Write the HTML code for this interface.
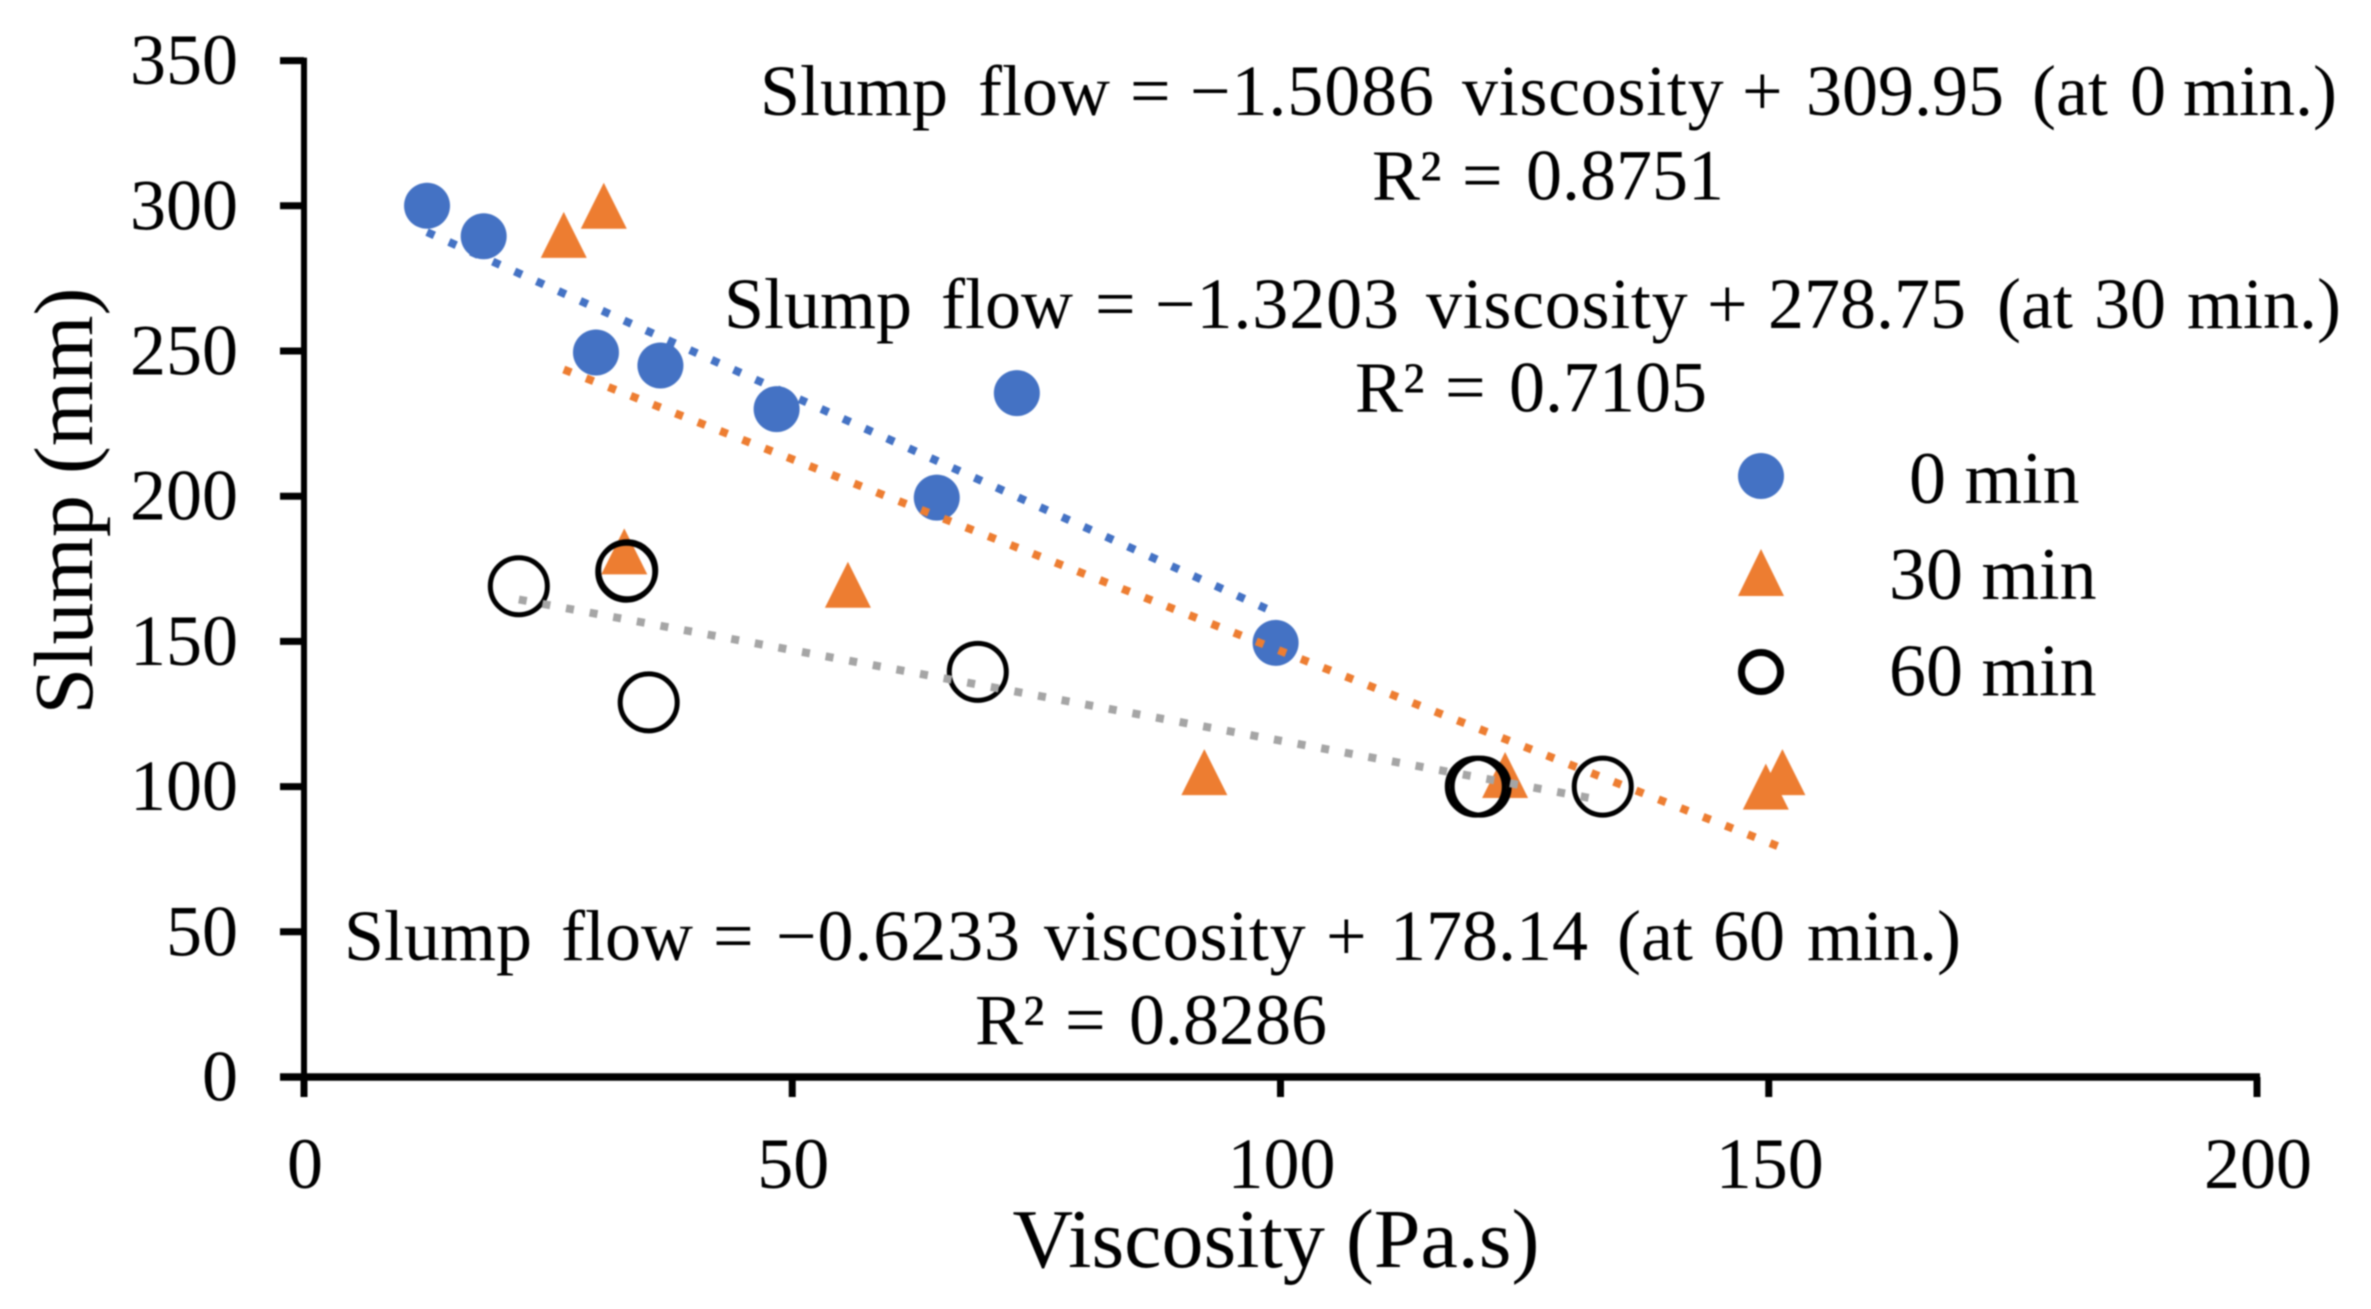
<!DOCTYPE html>
<html lang="en">
<head>
<meta charset="utf-8">
<title>Slump vs Viscosity</title>
<style>
html,body{margin:0;padding:0;background:#fff;width:2371px;height:1309px;overflow:hidden}
svg{display:block;filter:blur(0.8px)}
text{font-family:"Liberation Serif",serif;fill:#000}
.n{letter-spacing:0.9px}
.v{letter-spacing:0.7px}
</style>
</head>
<body>
<svg id="chart" xmlns="http://www.w3.org/2000/svg" width="2371" height="1309" viewBox="0 0 2371 1309">
  <rect x="0" y="0" width="2371" height="1309" fill="#fff"/>
  <g id="axes"></g>
  <g id="marks"></g>
  <g id="trends"></g>

  <text transform="translate(92,501) rotate(-90)" text-anchor="middle" font-size="84">Slump (mm)</text>
  <text x="1276" y="1267" text-anchor="middle" font-size="84">Viscosity (Pa.s)</text>

  <text y="115" font-size="72"><tspan x="760">Slump</tspan><tspan x="978">flow</tspan><tspan x="1130">=</tspan><tspan x="1190" class="n">−1.5086</tspan><tspan x="1462" class="v">viscosity</tspan><tspan x="1742">+</tspan><tspan x="1806">309.95</tspan><tspan x="2032">(at</tspan><tspan x="2130">0</tspan><tspan x="2183">min.)</tspan></text>
  <text y="199.5" font-size="72"><tspan x="1372">R²</tspan><tspan x="1462">=</tspan><tspan x="1526">0.8751</tspan></text>

  <text y="328" font-size="72"><tspan x="724">Slump</tspan><tspan x="941">flow</tspan><tspan x="1095">=</tspan><tspan x="1155" class="n">−1.3203</tspan><tspan x="1426" class="v">viscosity</tspan><tspan x="1707">+</tspan><tspan x="1768">278.75</tspan><tspan x="1997">(at</tspan><tspan x="2094">30</tspan><tspan x="2187">min.)</tspan></text>
  <text y="411.5" font-size="72"><tspan x="1355">R²</tspan><tspan x="1445">=</tspan><tspan x="1509">0.7105</tspan></text>

  <text y="960" font-size="72"><tspan x="344">Slump</tspan><tspan x="561">flow</tspan><tspan x="713">=</tspan><tspan x="776" class="n">−0.6233</tspan><tspan x="1044" class="v">viscosity</tspan><tspan x="1326">+</tspan><tspan x="1390">178.14</tspan><tspan x="1617">(at</tspan><tspan x="1713">60</tspan><tspan x="1807">min.)</tspan></text>
  <text y="1044" font-size="72"><tspan x="975">R²</tspan><tspan x="1065">=</tspan><tspan x="1129">0.8286</tspan></text>

  <g>
    <circle cx="1761" cy="476" r="23" fill="#4472C4"/>
    <polygon points="1761,549 1784,596 1738,596" fill="#ED7D31"/>
    <circle cx="1761" cy="672" r="19.5" fill="none" stroke="#000" stroke-width="7"/>
    <text x="1909" y="503" font-size="74">0 min</text>
    <text x="1889" y="599" font-size="74">30 min</text>
    <text x="1889" y="695.5" font-size="74">60 min</text>
  </g>
</svg>
<script>
var xTicks = [0, 50, 100, 150, 200];
var yTicks = [0, 50, 100, 150, 200, 250, 300, 350];
var x0min = [12.6, 18.4, 29.9, 36.5, 48.4, 64.8, 73, 99.5];
var y0min = [300, 289.5, 249.5, 245, 230, 199.5, 235.5, 149.5];
var x30min = [26.6, 30.7, 32.8, 55.7, 92.2, 123, 149.7, 151.4];
var y30min = [290, 300, 181, 169.5, 105, 104, 100, 105];
var x60min = [22, 33, 33.1, 35.3, 69, 120, 120.5, 133];
var y60min = [169, 174, 174.5, 129, 139.5, 100, 100, 100];
var trendSlopes = [-1.5086, -1.3203, -0.6233];
var trendIntercepts = [309.95, 278.75, 178.14];
var trendStartX = [12.6, 26.6, 22];
var trendEndX = [99.5, 151.4, 133];

var NS = 'http://www.w3.org/2000/svg';
function xScale(v) { return 304 + (v / 200) * (2257 - 304); }
function yScale(v) { return 1077 - (v / 350) * (1077 - 60.6); }
function make(tag, attrs, parent) {
  var el = document.createElementNS(NS, tag);
  for (var k in attrs) { el.setAttribute(k, attrs[k]); }
  parent.appendChild(el);
  return el;
}
var axes = document.getElementById('axes');
var marks = document.getElementById('marks');
var trends = document.getElementById('trends');

var yAxisLine = make('line', {x1: xScale(0), x2: xScale(0), y1: yScale(350) - 3, y2: yScale(0) + 3, stroke: '#000', 'stroke-width': 6}, axes);


var xAxisLine = make('line', {x1: xScale(0) - 24, x2: xScale(200) + 3, y1: yScale(0), y2: yScale(0), stroke: '#000', 'stroke-width': 7.5}, axes);



yTicks.forEach(function (t) {
  var tick = make('line', {x1: xScale(0) - 24, x2: xScale(0), y1: yScale(t), y2: yScale(t), stroke: '#000', 'stroke-width': 7}, axes);
  
  
  var label = make('text', {x: 238, y: yScale(t) + 23.5, 'text-anchor': 'end', 'font-size': 72}, axes);
  label.textContent = String(t);
  
  
});
xTicks.forEach(function (t) {
  var tick = make('line', {x1: xScale(t), x2: xScale(t), y1: yScale(0), y2: yScale(0) + 20, stroke: '#000', 'stroke-width': 7}, axes);
  
  
  var label = make('text', {x: xScale(t) + 1, y: 1188, 'text-anchor': 'middle', 'font-size': 72}, axes);
  label.textContent = String(t);
  
  
});

x0min.forEach(function (v, i) {
  var c = make('circle', {cx: xScale(v), cy: yScale(y0min[i]), r: 23, fill: '#4472C4'}, marks);
  
  
});
x30min.forEach(function (v, i) {
  var px = xScale(v), py = yScale(y30min[i]);
  var p = make('polygon', {points: px + ',' + (py - 23) + ' ' + (px + 23) + ',' + (py + 23) + ' ' + (px - 23) + ',' + (py + 23), fill: '#ED7D31'}, marks);
  
  
});
x60min.forEach(function (v, i) {
  var c = make('circle', {cx: xScale(v), cy: yScale(y60min[i]), r: 28.5, fill: 'none', stroke: '#000', 'stroke-width': 5}, marks);
  
  
});

var trendColors = ['#4472C4', '#ED7D31', '#A5A5A5'];
var trendNames = ['trendline-0-min', 'trendline-30-min', 'trendline-60-min'];
trendSlopes.forEach(function (m, i) {
  var a = trendStartX[i], b = trendEndX[i];
  var l = make('line', {
    x1: xScale(a), y1: yScale(m * a + trendIntercepts[i]),
    x2: xScale(b), y2: yScale(m * b + trendIntercepts[i]),
    stroke: trendColors[i], 'stroke-width': 8, 'stroke-dasharray': '8 16'
  }, trends);
  
  
});
</script>
</body>
</html>
